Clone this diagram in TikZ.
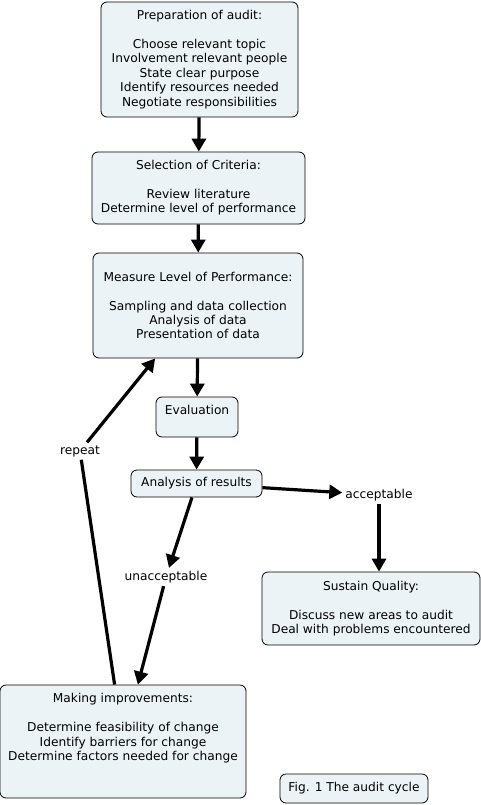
\documentclass[tikz,border=0pt]{standalone}
\usepackage{fontspec}
\setmainfont{DejaVu Sans}
\usepackage{tikz}
\usetikzlibrary{arrows.meta}

\definecolor{boxfill}{RGB}{236,243,246}

\tikzset{
  box/.style={draw=black, fill=boxfill, rounded corners=6pt, align=center, inner sep=3pt, line width=0.8pt},
  lbl/.style={inner sep=3pt},
  arr/.style={line width=3.2pt, -{Triangle[length=13pt,width=14pt]}},
}

\begin{document}
\begin{tikzpicture}[x=1pt, y=-1pt, font=\fontsize{12.2}{14.4}\selectfont]
  \useasboundingbox (0,0) rectangle (481,805);

  % boxes
  \node[box, minimum width=197pt, minimum height=115pt] (prep) at (199.5,59.5)
    {Preparation of audit:\\[14.4pt] Choose relevant topic\\ Involvement relevant people\\ State clear purpose\\ Identify resources needed\\ Negotiate responsibilities};
  \node[box, minimum width=213pt, minimum height=72pt] (crit) at (198.5,188)
    {Selection of Criteria:\\[14.4pt] Review literature\\ Determine level of performance};
  \node[box, minimum width=210pt, minimum height=105pt] (meas) at (198,305.5)
    {Measure Level of Performance:\\[14.4pt] Sampling and data collection\\ Analysis of data\\ Presentation of data};
  \node[box, minimum width=82pt, minimum height=40pt] (eval) at (197,417)
    {Evaluation\\ \mbox{}};
  \node[box, minimum width=131pt, minimum height=27pt] (res) at (196.5,483.5)
    {Analysis of results};
  \node[box, minimum width=218pt, minimum height=73pt] (sust) at (371,608.5)
    {Sustain Quality:\\[14.4pt] Discuss new areas to audit\\ Deal with problems encountered};
  \node[box, minimum width=246pt, minimum height=113pt] (impr) at (123,741.5)
    {Making improvements:\\[14.4pt] Determine feasibility of change\\ Identify barriers for change\\ Determine factors needed for change\\ \mbox{}\\ \mbox{}};
  \node[box, minimum width=148pt, minimum height=29pt] (fig) at (354,788.5)
    {Fig. 1 The audit cycle};

  % labels
  \node[lbl] (acc) at (379,495) {acceptable};
  \node[lbl] (unacc) at (166,577) {unacceptable};
  \node[lbl] (rep) at (80,451) {repeat};

  % connectors
  \draw[arr] (prep) -- (crit);
  \draw[arr] (crit) -- (meas);
  \draw[arr] (meas) -- (eval);
  \draw[arr] (eval) -- (res);
  \draw[arr] (res) -- (acc);
  \draw[arr] (acc) -- (acc |- sust.north);
  \draw[arr] (res) -- (unacc);
  \draw[arr] (unacc) -- (impr);
  \draw[line width=3.2pt] (impr) -- (rep);
  \draw[arr] (rep) -- (meas);
\end{tikzpicture}
\end{document}
